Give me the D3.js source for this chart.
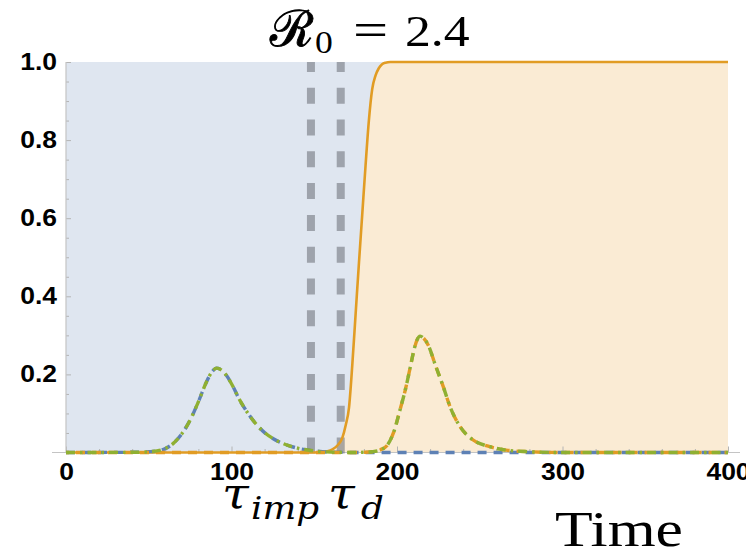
<!DOCTYPE html>
<html>
<head>
<meta charset="utf-8">
<script src="https://cdn.jsdelivr.net/npm/d3@7"></script>
<style>
  html, body { margin: 0; padding: 0; background: #fff; }
  svg { display: block; }
</style>
</head>
<body>
<svg id="chart" width="746" height="553"></svg>
<script>
// Time grid (days) shared by the infection curves
const waveTimes = [0, 40, 50, 55, 60, 65, 70, 75, 80, 85, 88, 91, 94, 97, 100, 105, 110, 115, 120, 125,
  130, 135, 140, 145, 150, 155, 160, 165, 170, 175, 180, 185, 190, 194, 198, 202, 205, 208, 210, 212,
  214, 216, 219, 223, 228, 232, 238, 246, 256, 266, 280, 300, 400];

// Infected fraction, resident strain (first wave)
const firstWave = [0, 0.0005, 0.002, 0.004, 0.010, 0.024, 0.048, 0.083, 0.130, 0.182, 0.205, 0.216, 0.211, 0.197, 0.176, 0.134,
  0.100, 0.072, 0.051, 0.036, 0.025, 0.017, 0.011, 0.007, 0.004, 0.002, 0.001, 0.0005, 0, 0, 0, 0, 0, 0, 0, 0,
  0, 0, 0, 0, 0, 0, 0, 0, 0, 0, 0, 0, 0, 0, 0, 0, 0];

// Infected fraction, imported strain (second wave)
const secondWave = [0, 0, 0, 0, 0, 0, 0, 0, 0, 0, 0, 0, 0, 0, 0, 0, 0, 0, 0, 0, 0, 0, 0, 0, 0, 0, 0, 0, 0, 0,
  0.0005, 0.002, 0.007, 0.018, 0.052, 0.112, 0.160, 0.218, 0.258, 0.287, 0.298, 0.293, 0.274, 0.226, 0.168,
  0.118, 0.067, 0.032, 0.015, 0.006, 0.002, 0, 0];

// Total infected fraction
const totalInfected = [0, 0.0005, 0.002, 0.004, 0.010, 0.024, 0.048, 0.083, 0.130, 0.182, 0.205, 0.216, 0.211, 0.197, 0.176, 0.134,
  0.100, 0.072, 0.051, 0.036, 0.025, 0.017, 0.011, 0.007, 0.004, 0.002, 0.001, 0.0005, 0, 0,
  0.0005, 0.002, 0.007, 0.018, 0.052, 0.112, 0.160, 0.218, 0.258, 0.287, 0.298, 0.293, 0.274, 0.226, 0.168,
  0.118, 0.067, 0.032, 0.015, 0.006, 0.002, 0, 0];

// Share of the imported strain among infections
const shareTimes = [0, 150, 155, 158, 161, 164, 167, 169, 171, 173, 175, 177, 179, 181, 183, 185, 187, 189, 191, 193, 196, 400];
const strainShare = [0, 0, 0.001, 0.003, 0.008, 0.018, 0.038, 0.07, 0.115, 0.225, 0.355, 0.485, 0.61, 0.735, 0.85, 0.93,
  0.965, 0.984, 0.994, 0.998, 1, 1];

// Axis ticks and the two marked times
const xTicks = [0, 100, 200, 300, 400];
const xMinorTicks = [20, 40, 60, 80, 120, 140, 160, 180, 220, 240, 260, 280, 320, 340, 360, 380];
const yTicks = [0.2, 0.4, 0.6, 0.8, 1.0];
const yMinorTicks = [0.05, 0.1, 0.15, 0.25, 0.3, 0.35, 0.45, 0.5, 0.55, 0.65, 0.7, 0.75, 0.85, 0.9, 0.95];
const markTimes = [148, 166];

const COLORS = { blue: "#5E81B5", orange: "#E19C24", green: "#8FB032" };
const SX = 1.15; // horizontal stretch applied to text

const svg = d3.select("#chart");
const x = d3.scaleLinear().domain([0, 400]).range([66, 728]);
const y = d3.scaleLinear().domain([0, 1]).range([452.5, 62]);

const share = shareTimes.map((t, i) => ({ t, v: strainShare[i] }));

// Background fills: below the share curve (imported strain) and above it (resident strain)
svg.append("path")
  .datum(share)
  .attr("fill", "rgb(223,230,240)")
  .attr("d", d3.area().x(d => x(d.t)).y0(y(1)).y1(d => y(d.v)).curve(d3.curveMonotoneX));
svg.append("path")
  .datum(share)
  .attr("fill", "rgb(250,235,212)")
  .attr("d", d3.area().x(d => x(d.t)).y0(y(0)).y1(d => y(d.v)).curve(d3.curveMonotoneX));

// Axes
const xMajor = svg.append("g").attr("transform", `translate(0,${y(0)})`)
  .call(d3.axisBottom(x).tickValues(xTicks).tickSizeInner(-6).tickSizeOuter(0).tickPadding(19).tickFormat(d3.format("d")));
const xMinor = svg.append("g").attr("transform", `translate(0,${y(0)})`)
  .call(d3.axisBottom(x).tickValues(xMinorTicks).tickSizeInner(-3.5).tickSizeOuter(0).tickFormat(""));
const yMajor = svg.append("g").attr("transform", `translate(${x(0)},0)`)
  .call(d3.axisLeft(y).tickValues(yTicks).tickSizeInner(-5).tickSizeOuter(0).tickPadding(9).tickFormat(d3.format(".1f")));
const yMinor = svg.append("g").attr("transform", `translate(${x(0)},0)`)
  .call(d3.axisLeft(y).tickValues(yMinorTicks).tickSizeInner(-3).tickSizeOuter(0).tickFormat(""));

[xMajor, xMinor, yMajor, yMinor].forEach(g => {
  g.select(".domain").remove();
  g.selectAll(".tick line").attr("stroke", "#b4b4b4").attr("stroke-width", 1);
  g.selectAll("text")
    .attr("font-family", "'Liberation Sans', Arial, sans-serif")
    .attr("font-weight", "bold")
    .attr("font-size", 23)
    .attr("fill", "#000");
});
xMajor.selectAll(".tick text").attr("dy", "0.35em").attr("y", 19).attr("transform", `scale(${SX},1)`);
yMajor.selectAll(".tick text").attr("x", -9 / SX).attr("transform", `scale(${SX},1)`);

// Axis lines
svg.append("line").attr("x1", 52).attr("x2", 740).attr("y1", y(0)).attr("y2", y(0))
  .attr("stroke", "#c4c4c4").attr("stroke-width", 1.2);
svg.append("line").attr("x1", x(0)).attr("x2", x(0)).attr("y1", y(1)).attr("y2", y(0))
  .attr("stroke", "#c4c4c4").attr("stroke-width", 1.2);

// Vertical dashed markers at the import and detection times
svg.append("g").selectAll("line").data(markTimes).join("line")
  .attr("x1", d => x(d)).attr("x2", d => x(d))
  .attr("y1", y(0) + 1).attr("y2", y(1))
  .attr("stroke", "rgb(110,114,122)").attr("stroke-opacity", 0.58)
  .attr("stroke-width", 8)
  .attr("stroke-dasharray", "16,15.8");

// Share curve
svg.append("path")
  .datum(share)
  .attr("fill", "none")
  .attr("stroke", COLORS.orange)
  .attr("stroke-width", 2.6)
  .attr("d", d3.line().x(d => x(d.t)).y(d => y(d.v)).curve(d3.curveMonotoneX));

// Infection curves
const infLine = vals => d3.line()
  .x((d, i) => x(waveTimes[i]))
  .y(d => y(d))
  .curve(d3.curveMonotoneX)(vals);

svg.append("path").attr("d", infLine(firstWave))
  .attr("fill", "none").attr("stroke", COLORS.blue).attr("stroke-width", 3.4)
  .attr("stroke-dasharray", "9,7");
svg.append("path").attr("d", infLine(secondWave))
  .attr("fill", "none").attr("stroke", COLORS.orange).attr("stroke-width", 3.4)
  .attr("stroke-dasharray", "9,7").attr("stroke-dashoffset", 6);
svg.append("path").attr("d", infLine(totalInfected))
  .attr("fill", "none").attr("stroke", COLORS.green).attr("stroke-width", 3.4)
  .attr("stroke-dasharray", "9,5,2.5,5");

// Text helper: horizontally stretched label placed at (px, py)
function label(px, py, str, opts) {
  const g = svg.append("g").attr("transform", `translate(${px},${py}) scale(${opts.sx || SX},1)`);
  const t = g.append("text")
    .attr("font-family", opts.family)
    .attr("font-size", opts.size)
    .attr("font-style", opts.style || "normal")
    .attr("fill", "#000")
    .text(str);
  return t;
}

// Title: R0 = 2.4
label(270, 46, "\u211B", { family: "'DejaVu Serif', serif", size: 50, sx: 1.0 })
  .attr("stroke", "#000").attr("stroke-width", 0.9);
label(315, 53, "0", { family: "'Liberation Serif', serif", size: 31 });
label(353, 46, "=", { family: "'Liberation Serif', serif", size: 48, sx: 1.3 });
label(405, 46, "2.4", { family: "'Liberation Serif', serif", size: 45 });

// Marked-time labels
const serifItalic = "'DejaVu Serif', serif";
label(222, 508, "\u03C4", { family: serifItalic, size: 42, style: "italic" });
label(251, 519, "imp", { family: serifItalic, size: 31, style: "italic" });
label(328, 508, "\u03C4", { family: serifItalic, size: 42, style: "italic" });
label(361, 519, "d", { family: serifItalic, size: 31, style: "italic" });

// Horizontal axis title
label(555, 546, "Time", { family: "'Liberation Serif', serif", size: 50 })
  .attr("textLength", 128 / SX).attr("lengthAdjust", "spacingAndGlyphs");
</script>
</body>
</html>
